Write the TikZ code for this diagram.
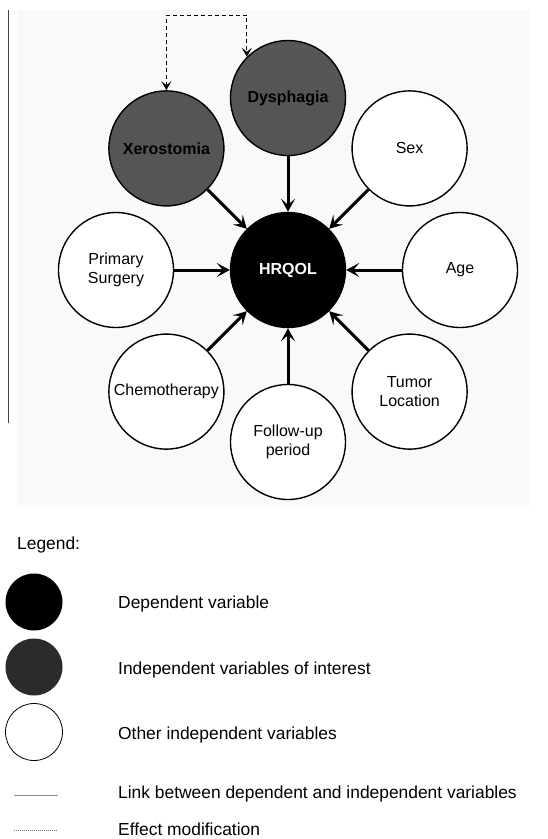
\documentclass[tikz,border=0pt]{standalone}
\usepackage{fontspec}
\setmainfont{Liberation Sans}
\usetikzlibrary{arrows.meta,positioning}
\definecolor{interestgray}{HTML}{555555}
\definecolor{leggray}{HTML}{2B2B2B}
\definecolor{panelgray}{HTML}{F9F9F9}
\definecolor{rulegray}{HTML}{444444}

\begin{document}
\begin{tikzpicture}[x=1pt,y=-1pt,>={Stealth[length=13pt,width=14pt,inset=6pt]},
    node distance=172pt,on grid,font=\fontsize{16}{19}\selectfont,
    var node/.style={circle,draw,line width=1.4pt,minimum size=115pt,inner sep=0pt,align=center},
    dep node/.style={var node,fill=black,text=white,font=\fontsize{16}{19}\selectfont\bfseries},
    interest node/.style={var node,fill=interestgray,font=\fontsize{16}{19}\selectfont\bfseries},
    other node/.style={var node,fill=white},
    link/.style={->,line width=3pt},
    effect/.style={{Stealth[length=9pt,width=10pt,inset=4pt]}-{Stealth[length=9pt,width=10pt,inset=4pt]},
        line width=1.2pt,dash pattern=on 4pt off 3pt},
    leg circle/.style={circle,minimum size=57pt,inner sep=0pt},
    leg text/.style={anchor=west,inner sep=0pt,font=\fontsize{17.4}{21}\selectfont}]
    \useasboundingbox (0,0) rectangle (548,839);
    % panel and side rule
    \fill[panelgray] (17,10) rectangle (530,505);
    \coordinate (ruletop) at (8,10);
    \coordinate (rulebot) at (8,423);
    \draw[rulegray,line width=0.9pt] (ruletop) -- (rulebot);

    \node[dep node] (hrqol) at (288,270) {HRQOL};
    \node[interest node] (dys) [above=of hrqol] {Dysphagia};
    \node[interest node] (xero) [above left=121.6pt and 121.6pt of hrqol] {Xerostomia};
    \node[other node] (sex) [above right=121.6pt and 121.6pt of hrqol] {Sex};
    \node[other node] (surg) [left=of hrqol] {Primary\\Surgery};
    \node[other node] (age) [right=of hrqol] {Age};
    \node[other node] (chemo) [below left=121.6pt and 121.6pt of hrqol] {Chemotherapy};
    \node[other node] (tumor) [below right=121.6pt and 121.6pt of hrqol] {Tumor\\Location};
    \node[other node] (follow) [below=of hrqol] {Follow-up\\period};

    \path[link]
    (xero) edge (hrqol)
    (dys) edge (hrqol)
    (sex) edge (hrqol)
    (surg) edge (hrqol)
    (age) edge (hrqol)
    (chemo) edge (hrqol)
    (tumor) edge (hrqol)
    (follow) edge (hrqol);
    \draw[effect] (xero.north) -- ++(0,-75) -| (dys.135);

    % legend
    \node[leg text] (legtitle) at (17,545) {Legend:};
    \node[leg circle,fill=black] (legdep) at (34,602) {};
    \node[leg circle,fill=leggray] (legint) at (34,667) {};
    \node[leg circle,draw,fill=white,line width=0.8pt] (legoth) at (34,732) {};
    \coordinate (linka) at (14,795);
    \coordinate (linkb) at (58,795);
    \coordinate (moda) at (14,830);
    \coordinate (modb) at (58,830);
    \draw[black!45,line width=1pt] (linka) -- (linkb);
    \draw[black!55,line width=0.8pt,dash pattern=on 1pt off 1pt] (moda) -- (modb);
    \node[leg text] (txtdep) at (118,604) {Dependent variable};
    \node[leg text] (txtint) at (118,670) {Independent variables of interest};
    \node[leg text] (txtoth) at (118,735) {Other independent variables};
    \node[leg text] (txtlink) at (118,794) {Link between dependent and independent variables};
    \node[leg text] (txtmod) at (118,829) {Effect modification};
\end{tikzpicture}
\end{document}
